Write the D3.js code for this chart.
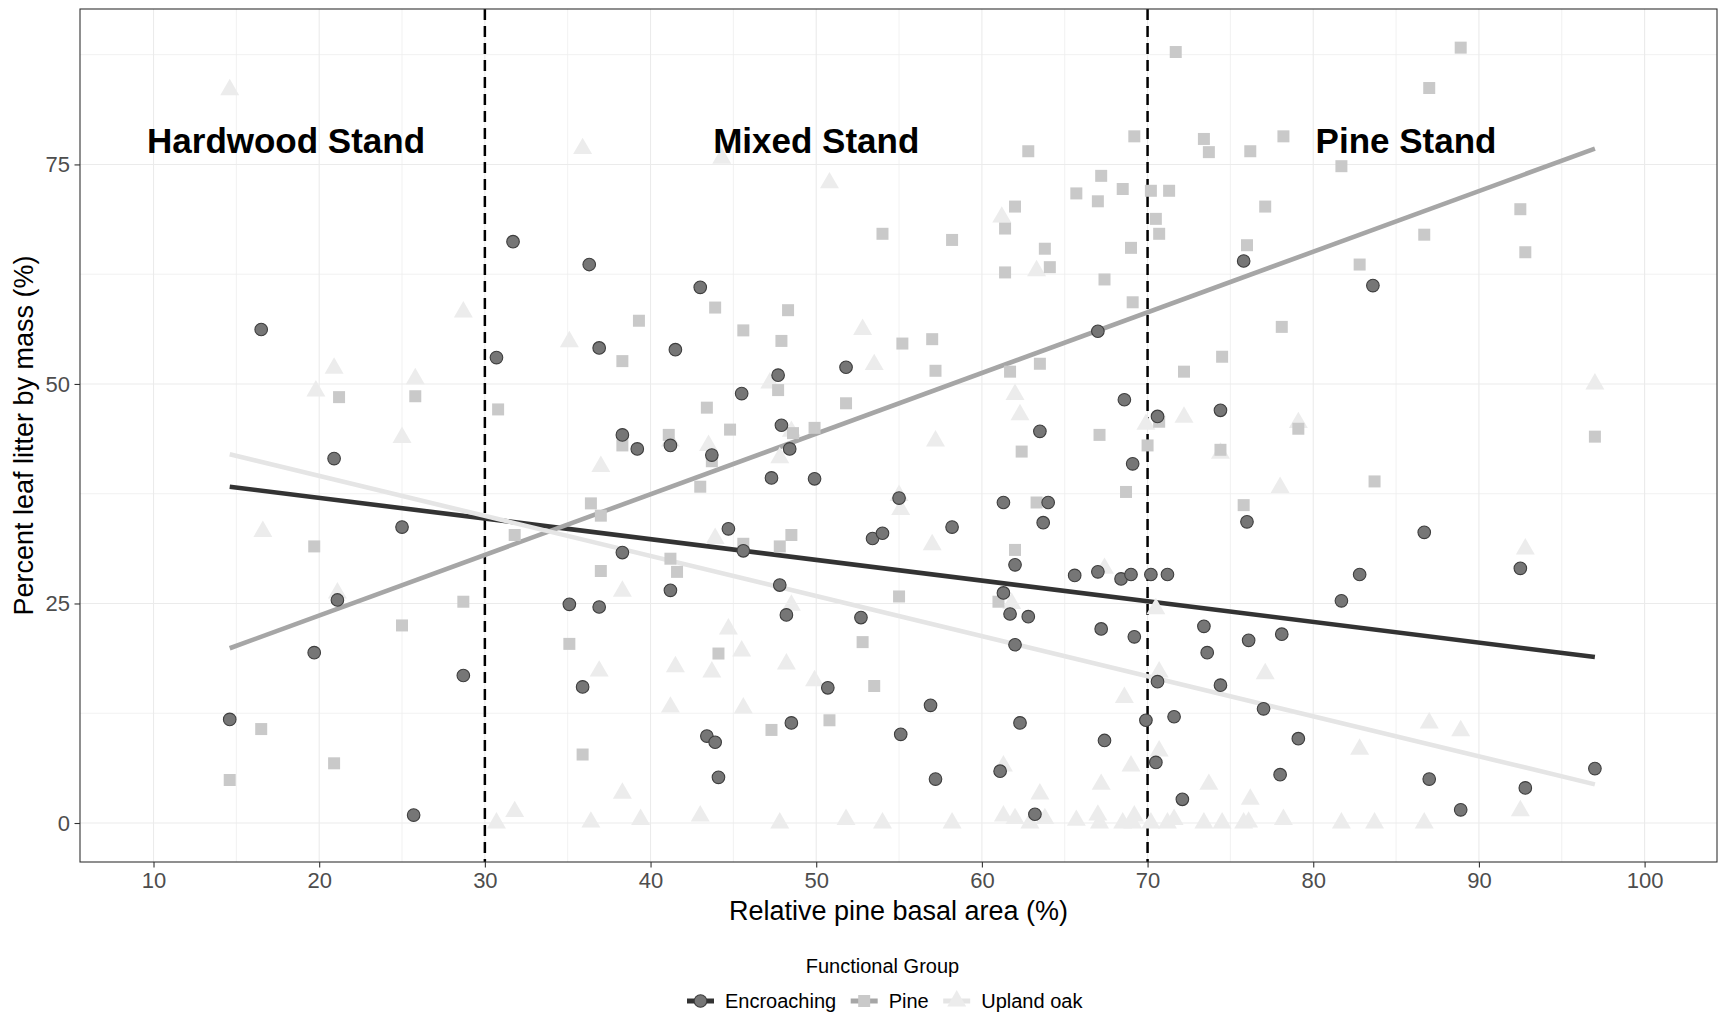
<!DOCTYPE html>
<html>
<head>
<meta charset="utf-8">
<script src="https://d3js.org/d3.v7.min.js"></script>
<style>
  body { margin: 0; background: #fff; }
  svg { display: block; font-family: "Liberation Sans", Arial, sans-serif; }
</style>
</head>
<body>
<svg id="chart" width="1719" height="1015"></svg>
<script>
// values: relative pine basal area (%) vs percent leaf litter (%)
const groups = ['Encroaching', 'Pine', 'Upland oak'];

const encroachingX = [31.7, 36.3, 16.5, 36.9, 30.7, 38.3, 43.0, 41.5, 51.8, 47.7, 45.5, 68.6, 70.6, 47.9, 63.5,
    75.8, 83.6, 74.4, 39.2, 20.9, 25.0, 38.3, 21.1, 35.1, 36.9, 19.7, 28.7, 35.9, 14.6, 25.7,
    41.2, 43.7, 48.4, 47.3, 49.9, 69.1, 61.3, 64.0, 63.7, 55.0, 58.2, 44.7, 53.4, 54.0, 45.6,
    41.2, 47.8, 48.2, 52.7, 50.7, 56.9, 48.5, 43.4, 43.9, 55.1, 44.1, 57.2, 62.0, 65.6, 67.0,
    68.4, 69.0, 70.2, 71.2, 61.3, 61.7, 62.8, 62.0, 67.2, 69.2, 70.6, 69.9, 71.6, 62.3, 67.4,
    70.5, 61.1, 63.2, 72.1, 76.0, 86.7, 92.5, 82.8, 81.7, 73.4, 76.1, 78.1, 73.6, 74.4, 77.0,
    79.1, 97.0, 78.0, 87.0, 92.8, 88.9, 67.0];
const encroachingY = [66.2, 63.6, 56.2, 54.1, 53.0, 44.2, 61.0, 53.9, 51.9, 51.0, 48.9, 48.2, 46.3, 45.3, 44.6,
    64.0, 61.2, 47.0, 42.6, 41.5, 33.7, 30.8, 25.4, 24.9, 24.6, 19.4, 16.8, 15.5, 11.8, 0.9,
    43.0, 41.9, 42.6, 39.3, 39.2, 40.9, 36.5, 36.5, 34.2, 37.0, 33.7, 33.5, 32.4, 33.0, 31.0,
    26.5, 27.1, 23.7, 23.4, 15.4, 13.4, 11.4, 9.9, 9.2, 10.1, 5.2, 5.0, 29.4, 28.2, 28.6,
    27.8, 28.3, 28.3, 28.3, 26.2, 23.8, 23.5, 20.3, 22.1, 21.2, 16.1, 11.7, 12.1, 11.4, 9.4,
    6.9, 5.9, 1.0, 2.7, 34.3, 33.1, 29.0, 28.3, 25.3, 22.4, 20.8, 21.5, 19.4, 15.7, 13.0,
    9.6, 6.2, 5.5, 5.0, 4.0, 1.5, 56.0];

const pineX = [39.3, 38.3, 21.2, 25.8, 30.8, 71.7, 69.2, 62.8, 67.2, 65.7, 68.5, 70.2, 71.3, 67.0, 62.0,
    70.5, 70.7, 61.4, 54.0, 58.2, 63.8, 69.0, 64.1, 61.4, 67.4, 69.1, 43.9, 48.3, 45.6, 47.9,
    55.2, 57.0, 57.2, 61.7, 63.5, 47.7, 43.4, 51.8, 70.7, 88.9, 87.0, 73.4, 73.7, 76.2, 78.2,
    81.7, 77.1, 92.5, 86.7, 92.8, 76.0, 82.8, 78.1, 74.5, 72.2, 79.1, 97.0, 38.3, 36.4, 37.0,
    19.7, 31.8, 37.0, 28.7, 25.0, 35.1, 16.5, 35.9, 20.9, 14.6, 41.1, 43.7, 44.8, 48.6, 49.9,
    43.0, 67.1, 62.4, 70.0, 68.7, 63.3, 45.6, 47.8, 48.5, 41.2, 41.6, 55.0, 44.1, 52.8, 53.5,
    47.3, 50.8, 62.0, 61.0, 74.4, 83.7, 75.8];
const pineY = [57.2, 52.6, 48.5, 48.6, 47.1, 87.8, 78.2, 76.5, 73.7, 71.7, 72.2, 72.0, 72.0, 70.8, 70.2,
    68.8, 67.1, 67.7, 67.1, 66.4, 65.4, 65.5, 63.3, 62.7, 61.9, 59.3, 58.7, 58.4, 56.1, 54.9,
    54.6, 55.1, 51.5, 51.4, 52.3, 49.3, 47.3, 47.8, 45.7, 88.3, 83.7, 77.9, 76.4, 76.5, 78.2,
    74.8, 70.2, 69.9, 67.0, 65.0, 65.8, 63.6, 56.5, 53.1, 51.4, 44.9, 44.0, 43.0, 36.4, 35.0,
    31.5, 32.8, 28.7, 25.2, 22.5, 20.4, 10.7, 7.8, 6.8, 4.9, 44.2, 41.2, 44.8, 44.4, 45.0,
    38.3, 44.2, 42.3, 43.0, 37.7, 36.5, 31.8, 31.5, 32.8, 30.1, 28.6, 25.8, 19.3, 20.6, 15.6,
    10.6, 11.7, 31.1, 25.2, 42.5, 38.9, 36.2];

const oakX = [14.6, 35.9, 28.7, 35.1, 20.9, 19.8, 25.8, 25.0, 44.3, 50.8, 61.2, 63.3, 52.8, 53.5, 47.2,
    62.0, 62.3, 69.9, 97.0, 72.2, 79.1, 37.0, 16.6, 38.3, 21.1, 36.9, 38.3, 31.8, 30.7, 36.4,
    39.4, 41.2, 43.5, 48.5, 47.8, 57.2, 55.0, 55.1, 57.0, 43.9, 48.5, 44.7, 45.5, 41.5, 43.7,
    48.2, 49.9, 41.2, 45.6, 43.0, 47.8, 51.8, 54.0, 58.2, 67.4, 61.8, 70.5, 70.7, 68.6, 70.7,
    69.0, 61.3, 67.2, 63.5, 61.3, 62.0, 62.9, 63.8, 65.7, 67.0, 67.1, 68.5, 69.2, 69.1, 70.2,
    71.2, 74.4, 78.0, 92.8, 77.1, 87.0, 88.9, 82.8, 73.7, 76.2, 92.5, 71.6, 73.4, 74.5, 75.8,
    76.1, 78.2, 81.7, 83.7, 86.7];
const oakY = [83.5, 76.8, 58.2, 54.8, 51.8, 49.2, 50.6, 43.9, 75.7, 72.9, 69.0, 62.9, 56.2, 52.2, 50.1,
    48.8, 46.5, 45.4, 50.0, 46.2, 45.6, 40.6, 33.2, 26.4, 26.2, 17.3, 3.4, 1.3, 0, 0.1,
    0.4, 43.5, 43.0, 44.6, 41.6, 43.5, 37.3, 35.7, 31.7, 32.4, 24.8, 22.1, 19.6, 17.8, 17.2,
    18.1, 16.2, 13.2, 13.1, 0.8, 0, 0.4, 0, 0, 29.0, 25.0, 24.4, 17.2, 14.3, 8.2,
    6.5, 6.5, 4.4, 3.3, 0.8, 0.5, 0, 0.5, 0.3, 0.9, 0, 0, 0.8, 0, 0,
    0, 42.1, 38.2, 31.2, 17.0, 11.4, 10.5, 8.4, 4.4, 2.7, 1.4, 0.4, 0, 0, 0,
    0.1, 0.4, 0, 0, 0];

// least-squares trend lines as drawn in the figure (start and end of each)
const fitX = [14.6, 97.0];
const encroachingFit = [38.3, 18.9];
const pineFit = [19.9, 76.8];
const oakFit = [42.0, 4.4];

const standBreaks = [30, 70];
const standLabels = ['Hardwood Stand', 'Mixed Stand', 'Pine Stand'];
const standX = [18, 50, 85.6];
const standY = [77.7, 77.7, 77.7];

const xTicks = [10, 20, 30, 40, 50, 60, 70, 80, 90, 100];
const xMinor = [15, 25, 35, 45, 55, 65, 75, 85, 95];
const yTicks = [0, 25, 50, 75];
const yMinor = [12.5, 37.5, 62.5, 87.5];

const styles = {
    'Encroaching': { symbol: 'circle', fill: '#767676', stroke: '#3e3e3e', line: '#333333' },
    'Pine': { symbol: 'square', fill: '#c9c9c9', stroke: 'none', line: '#a6a6a6' },
    'Upland oak': { symbol: 'triangle', fill: '#ececec', stroke: 'none', line: '#e5e5e5' },
};

const series = [
    { name: 'Encroaching', xs: encroachingX, ys: encroachingY, fit: encroachingFit },
    { name: 'Pine', xs: pineX, ys: pineY, fit: pineFit },
    { name: 'Upland oak', xs: oakX, ys: oakY, fit: oakFit },
];

const svg = d3.select('#chart');
const panel = { left: 80, top: 9, right: 1717, bottom: 862 };

const x = d3.scaleLinear().domain([5.563, 104.37]).range([panel.left, panel.right]);
const y = d3.scaleLinear().domain([-4.44, 92.7]).range([panel.bottom, panel.top]);

svg.append('rect').attr('width', 1719).attr('height', 1015).attr('fill', '#fff');

// grid
const grid = svg.append('g').attr('class', 'grid');
grid.selectAll('line.xminor').data(xMinor).join('line').attr('class', 'xminor')
    .attr('x1', d => x(d)).attr('x2', d => x(d))
    .attr('y1', panel.top).attr('y2', panel.bottom)
    .attr('stroke', '#ededed').attr('stroke-width', 0.8);
grid.selectAll('line.yminor').data(yMinor).join('line').attr('class', 'yminor')
    .attr('y1', d => y(d)).attr('y2', d => y(d))
    .attr('x1', panel.left).attr('x2', panel.right)
    .attr('stroke', '#ededed').attr('stroke-width', 0.8);
grid.selectAll('line.xmajor').data(xTicks).join('line').attr('class', 'xmajor')
    .attr('x1', d => x(d)).attr('x2', d => x(d))
    .attr('y1', panel.top).attr('y2', panel.bottom)
    .attr('stroke', '#ebebeb').attr('stroke-width', 1.1);
grid.selectAll('line.ymajor').data(yTicks).join('line').attr('class', 'ymajor')
    .attr('y1', d => y(d)).attr('y2', d => y(d))
    .attr('x1', panel.left).attr('x2', panel.right)
    .attr('stroke', '#ebebeb').attr('stroke-width', 1.1);

// stand boundaries
svg.selectAll('line.vbreak').data(standBreaks).join('line').attr('class', 'vbreak')
    .attr('x1', d => x(d)).attr('x2', d => x(d))
    .attr('y1', panel.top).attr('y2', panel.bottom)
    .attr('stroke', '#000').attr('stroke-width', 2.5)
    .attr('stroke-dasharray', '11,6');

// trend lines
const line = d3.line().x(d => x(d[0])).y(d => y(d[1]));
svg.append('g').attr('class', 'fits')
    .selectAll('path').data(series).join('path')
    .attr('d', s => line([[fitX[0], s.fit[0]], [fitX[1], s.fit[1]]]))
    .attr('fill', 'none')
    .attr('stroke', s => styles[s.name].line)
    .attr('stroke-width', 4.6);

function symbolPath(kind) {
    if (kind === 'square') return d3.symbol(d3.symbolSquare, 144)();
    return d3.symbol(d3.symbolTriangle, 156)();
}

// points, pine and oak under encroaching
function drawPoints(s) {
    const st = styles[s.name];
    const pts = s.xs.map((v, i) => [v, s.ys[i]]);
    const g = svg.append('g').attr('class', 'points');
    if (st.symbol === 'circle') {
        g.selectAll('circle').data(pts).join('circle')
            .attr('cx', d => x(d[0])).attr('cy', d => y(d[1]))
            .attr('r', 6.3)
            .attr('fill', st.fill).attr('stroke', st.stroke).attr('stroke-width', 1.1);
    } else {
        g.selectAll('path').data(pts).join('path')
            .attr('transform', d => `translate(${x(d[0])},${y(d[1])})`)
            .attr('d', symbolPath(st.symbol))
            .attr('fill', st.fill);
    }
}
drawPoints(series[2]);
drawPoints(series[1]);
drawPoints(series[0]);

// stand labels
svg.selectAll('text.stand').data(standLabels).join('text').attr('class', 'stand')
    .attr('x', (d, i) => x(standX[i]))
    .attr('y', (d, i) => y(standY[i]))
    .attr('dy', '0.36em')
    .attr('text-anchor', 'middle')
    .style('font-size', '35px').style('font-weight', 'bold')
    .attr('fill', '#000')
    .text(d => d);

// panel border
svg.append('rect')
    .attr('x', panel.left).attr('y', panel.top)
    .attr('width', panel.right - panel.left).attr('height', panel.bottom - panel.top)
    .attr('fill', 'none').attr('stroke', '#333').attr('stroke-width', 1.1);

// axes
const xAxis = svg.append('g').attr('transform', `translate(0,${panel.bottom})`)
    .call(d3.axisBottom(x).tickValues(xTicks).tickSize(5.5).tickPadding(5));
const yAxis = svg.append('g').attr('transform', `translate(${panel.left},0)`)
    .call(d3.axisLeft(y).tickValues(yTicks).tickSize(5.5).tickPadding(4.5));
[xAxis, yAxis].forEach(a => {
    a.select('.domain').remove();
    a.selectAll('line').attr('stroke', '#333').attr('stroke-width', 1.1);
    a.selectAll('text').attr('fill', '#4d4d4d').style('font-size', '22px')
        .style('font-family', '"Liberation Sans", Arial, sans-serif');
});

svg.append('text')
    .attr('x', (panel.left + panel.right) / 2).attr('y', 920)
    .attr('text-anchor', 'middle').style('font-size', '27px').attr('fill', '#000')
    .text('Relative pine basal area (%)');

svg.append('text')
    .attr('transform', `translate(33,${(panel.top + panel.bottom) / 2}) rotate(-90)`)
    .attr('text-anchor', 'middle').style('font-size', '27px').attr('fill', '#000')
    .text('Percent leaf litter by mass (%)');

// legend
const legendY = 1001;
svg.append('text')
    .attr('x', 882.5).attr('y', 973)
    .attr('text-anchor', 'middle').style('font-size', '20px').attr('fill', '#000')
    .text('Functional Group');

const legend = svg.append('g').attr('class', 'legend');
var cursor = 687;
groups.forEach(name => {
    const st = styles[name];
    const item = legend.append('g').attr('transform', `translate(${cursor},${legendY})`);
    item.append('line').attr('x1', 0).attr('x2', 27).attr('y1', 0).attr('y2', 0)
        .attr('stroke', st.line).attr('stroke-width', 5);
    if (st.symbol === 'circle') {
        item.append('circle').attr('cx', 13.5).attr('cy', 0).attr('r', 6.3)
            .attr('fill', st.fill).attr('stroke', st.stroke).attr('stroke-width', 1.1);
    } else {
        item.append('path').attr('transform', 'translate(13.5,0)')
            .attr('d', symbolPath(st.symbol)).attr('fill', st.fill);
    }
    const label = item.append('text').attr('x', 38).attr('y', 7)
        .style('font-size', '20px').attr('fill', '#000').text(name);
    cursor += 38 + label.node().getComputedTextLength() + 14.5;
});
</script>
</body>
</html>
